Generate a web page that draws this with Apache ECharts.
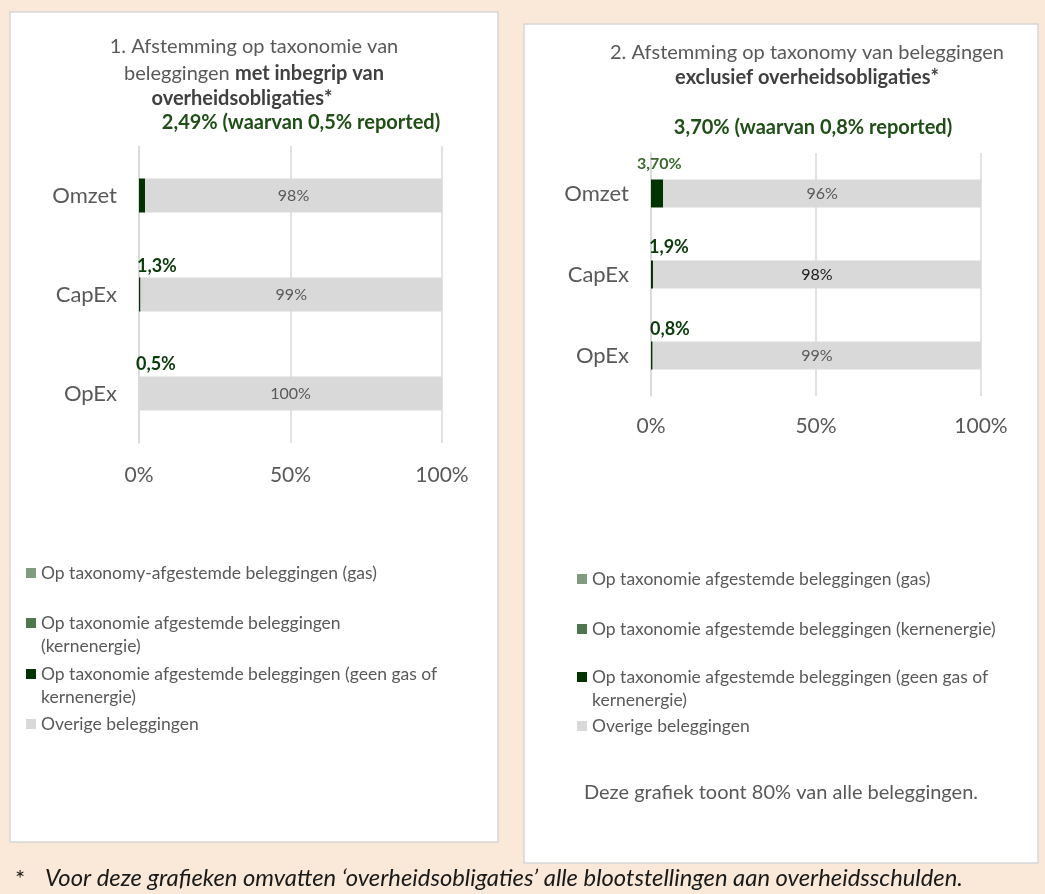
<!DOCTYPE html>
<html>
<head>
<meta charset="utf-8">
<script src="https://cdn.jsdelivr.net/npm/echarts@6/dist/echarts.min.js"></script>
<style>
  html, body { margin: 0; padding: 0; background: #FAE8D8; }
  #main { width: 1045px; height: 894px; }
</style>
</head>
<body>
<div id="main"></div>
<script>
// categories
var cats = ['Omzet', 'CapEx', 'OpEx'];

// grafiek 1: met overheidsobligaties
var gas1 = [0, 0, 0];
var kern1 = [0, 0, 0];
var green1 = [2.0, 0.5, 0];
var other1 = [98, 99.5, 100];
var green1Labels = ['', '1,3%', '0,5%'];
var other1Labels = ['98%', '99%', '100%'];

// grafiek 2: exclusief overheidsobligaties
var gas2 = [0, 0, 0];
var kern2 = [0, 0, 0];
var green2 = [3.7, 0.6, 0.5];
var other2 = [96.3, 99.4, 99.5];
var green2Labels = ['3,70%', '1,9%', '0,8%'];
var other2Labels = ['96%', '98%', '99%'];

var xTicks = [0, 50, 100];

// legenda namen en teksten
var nameGas1 = 'Op taxonomy-afgestemde beleggingen (gas)';
var nameGas2 = 'Op taxonomie afgestemde beleggingen (gas)';
var nameKern = 'Op taxonomie afgestemde beleggingen (kernenergie)';
var nameGeen = 'Op taxonomie afgestemde beleggingen (geen gas of kernenergie)';
var nameOther = 'Overige beleggingen';
var legendText1 = ['Op taxonomy-afgestemde beleggingen (gas)', 'Op taxonomie afgestemde beleggingen\n(kernenergie)', 'Op taxonomie afgestemde beleggingen (geen gas of\nkernenergie)', 'Overige beleggingen'];
var legendText2 = ['Op taxonomie afgestemde beleggingen (gas)', 'Op taxonomie afgestemde beleggingen (kernenergie)', 'Op taxonomie afgestemde beleggingen (geen gas of\nkernenergie)', 'Overige beleggingen'];

var FONT = 'Lato';
var GREY = '#595959';
var LINE = '#d9d9d9';
var colGas = '#7f9c7f', colKern = '#4e774e', colGeen = '#003300', colOther = '#d9d9d9';

var myChart = echarts.init(document.getElementById('main'));

// bij twee regels: hoog icoon met het vierkantje bovenaan, zodat het bij de eerste regel staat
function legendItem(name, text, left, cy) {
    var twoLines = text.indexOf('\n') >= 0;
    return {
        data: [name],
        formatter: text,
        orient: 'vertical',
        left: left,
        top: cy - 11.5,
        padding: 0,
        itemWidth: 10,
        itemHeight: twoLines ? 33 : 10,
        selectedMode: false,
        icon: twoLines ? 'path://M0,0L10,0L10,10L0,10Z M0,32.99L0.01,32.99L0.01,33L0,33Z' : 'rect',
        textStyle: { fontFamily: FONT, fontSize: 17.5, color: GREY, lineHeight: 23 }
    };
}

function titleItem(text, cx, cy, style) {
    return {
        text: text,
        left: cx,
        top: cy - 12.5,
        padding: 0,
        textAlign: 'center',
        textStyle: Object.assign({
            fontFamily: FONT, fontSize: 20, lineHeight: 25, color: GREY, fontWeight: 'normal',
            rich: { b: { fontFamily: FONT, fontSize: 20, lineHeight: 25, fontWeight: 'bold', color: '#404040' } }
        }, style || {})
    };
}

function xAxisCfg(gridIndex, margin) {
    return {
        type: 'value', gridIndex: gridIndex, min: 0, max: 100, interval: 50,
        axisLine: { show: false }, axisTick: { show: false },
        splitLine: { lineStyle: { color: LINE, width: 1.5 } },
        axisLabel: { formatter: '{value}%', fontFamily: FONT, fontSize: 21, color: GREY, margin: margin }
    };
}

function yAxisCfg(gridIndex) {
    return {
        type: 'category', gridIndex: gridIndex, data: cats, inverse: true,
        axisLine: { lineStyle: { color: LINE, width: 1.5 } },
        axisTick: { length: 8, lineStyle: { color: LINE, width: 1.5 } },
        axisLabel: { fontFamily: FONT, fontSize: 22, color: GREY, margin: 22 }
    };
}

var greenPos1 = [[-2, -20], [-2, -20], [-3, -21]];
var greenPos2 = [[-14, -24], [-2, -22], [-1, -21]];

option = {
    backgroundColor: '#FAE8D8',
    animation: false,
    graphic: [
        { type: 'rect', shape: { x: 10, y: 12, width: 488, height: 830 }, style: { fill: '#fff', stroke: '#d6d6d6', lineWidth: 1.5 }, z: -10 },
        { type: 'rect', shape: { x: 524, y: 24, width: 514, height: 839 }, style: { fill: '#fff', stroke: '#d6d6d6', lineWidth: 1.5 }, z: -10 }
    ],
    title: [
        titleItem('1. Afstemming op taxonomie van', 254, 47),
        titleItem('beleggingen {b|met inbegrip van}', 254, 74),
        titleItem('{b|overheidsobligaties*}', 242, 99),
        titleItem('2,49% (waarvan 0,5% reported)', 301, 123, { color: '#1f4f16', fontWeight: 'bold' }),
        titleItem('2. Afstemming op taxonomy van beleggingen', 807, 53),
        titleItem('{b|exclusief overheidsobligaties*}', 807, 78),
        titleItem('3,70% (waarvan 0,8% reported)', 813, 128, { color: '#1f4f16', fontWeight: 'bold' }),
        titleItem('Deze grafiek toont 80% van alle beleggingen.', 781, 793),
        {
            text: '*', left: 15, top: 867, padding: 0,
            textStyle: { fontFamily: FONT, fontSize: 24, fontWeight: 'normal', color: '#1a1a1a' }
        },
        {
            text: 'Voor deze grafieken omvatten \u2018overheidsobligaties\u2019 alle blootstellingen aan overheidsschulden.',
            left: 45, top: 866, padding: 0,
            textStyle: { fontFamily: FONT, fontSize: 23.8, fontStyle: 'italic', fontWeight: 'normal', color: '#1a1a1a' }
        }
    ],
    legend: [
        legendItem(nameGas1, legendText1[0], 26, 573),
        legendItem(nameKern, legendText1[1], 26, 623),
        legendItem(nameGeen, legendText1[2], 26, 674),
        legendItem(nameOther, legendText1[3], 26, 724),
        legendItem(nameGas2, legendText2[0], 577, 579),
        legendItem(nameKern, legendText2[1], 577, 629),
        legendItem(nameGeen, legendText2[2], 577, 677),
        legendItem(nameOther, legendText2[3], 577, 726)
    ],
    grid: [
        { left: 139, top: 146, width: 303, height: 297 },
        { left: 651, top: 153, width: 330, height: 243 }
    ],
    xAxis: [xAxisCfg(0, 22), xAxisCfg(1, 20)],
    yAxis: [yAxisCfg(0), yAxisCfg(1)],
    series: [
        { name: nameGas1, type: 'bar', stack: 'a', xAxisIndex: 0, yAxisIndex: 0, barWidth: 34, itemStyle: { color: colGas }, data: gas1 },
        { name: nameKern, type: 'bar', stack: 'a', xAxisIndex: 0, yAxisIndex: 0, barWidth: 34, itemStyle: { color: colKern }, data: kern1 },
        {
            name: nameGeen, type: 'bar', stack: 'a', xAxisIndex: 0, yAxisIndex: 0, barWidth: 34,
            itemStyle: { color: colGeen },
            data: green1.map(function (v, i) {
                return { value: v, label: { position: greenPos1[i] } };
            }),
            label: {
                show: true, fontFamily: FONT, fontSize: 18, fontWeight: 'bold', color: '#0b3b0b',
                formatter: function (p) { return green1Labels[p.dataIndex]; }
            }
        },
        {
            name: nameOther, type: 'bar', stack: 'a', xAxisIndex: 0, yAxisIndex: 0, barWidth: 34,
            itemStyle: { color: colOther },
            label: {
                show: true, position: 'inside', fontFamily: FONT, fontSize: 16, color: GREY,
                formatter: function (p) { return other1Labels[p.dataIndex]; }
            },
            data: other1
        },
        { name: nameGas2, type: 'bar', stack: 'b', xAxisIndex: 1, yAxisIndex: 1, barWidth: 28, itemStyle: { color: colGas }, data: gas2 },
        { name: nameKern, type: 'bar', stack: 'b', xAxisIndex: 1, yAxisIndex: 1, barWidth: 28, itemStyle: { color: colKern }, data: kern2 },
        {
            name: nameGeen, type: 'bar', stack: 'b', xAxisIndex: 1, yAxisIndex: 1, barWidth: 28,
            itemStyle: { color: colGeen },
            data: green2.map(function (v, i) {
                var lab = { position: greenPos2[i] };
                if (i === 0) { lab.color = '#3a6a2c'; lab.fontSize = 16; }
                return { value: v, label: lab };
            }),
            label: {
                show: true, fontFamily: FONT, fontSize: 18, fontWeight: 'bold', color: '#0b3b0b',
                formatter: function (p) { return green2Labels[p.dataIndex]; }
            }
        },
        {
            name: nameOther, type: 'bar', stack: 'b', xAxisIndex: 1, yAxisIndex: 1, barWidth: 28,
            itemStyle: { color: colOther },
            label: {
                show: true, position: 'inside', fontFamily: FONT, fontSize: 16, color: GREY,
                formatter: function (p) { return other2Labels[p.dataIndex]; }
            },
            data: other2.map(function (v, i) {
                return i === 1 ? { value: v, label: { color: '#1a1a1a' } } : v;
            })
        }
    ]
};

myChart.setOption(option);
</script>
</body>
</html>
